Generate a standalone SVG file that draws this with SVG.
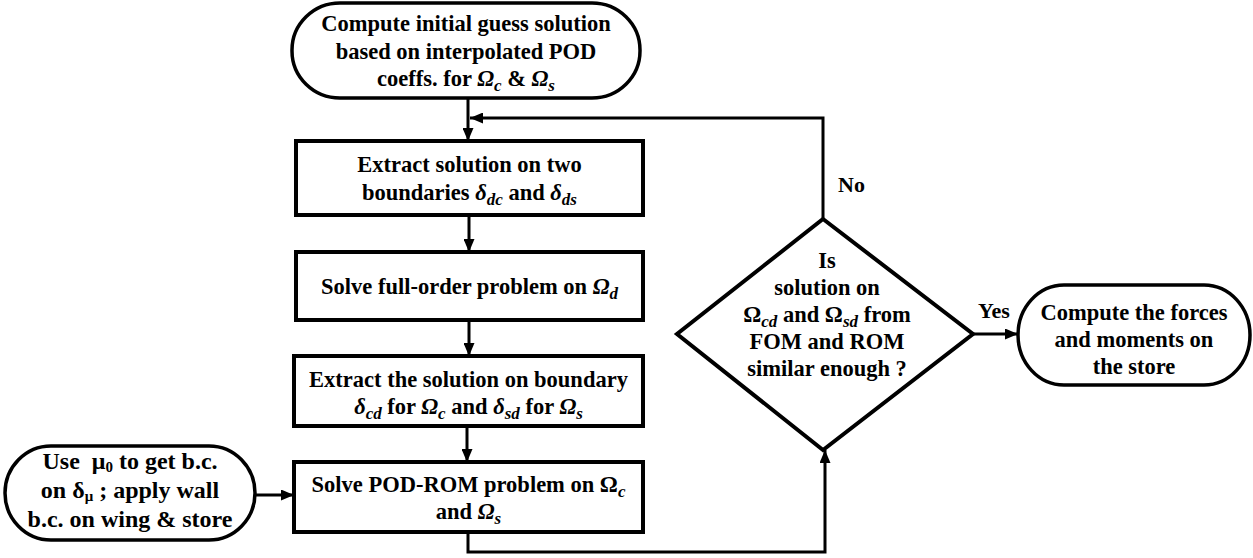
<svg xmlns="http://www.w3.org/2000/svg" width="1253" height="558" viewBox="0 0 1253 558">
<style>
.node{fill:#fff;stroke:#000;stroke-width:4}
.term{fill:#fff;stroke:#000;stroke-width:3.5}
.t{font-family:"Liberation Serif","Times New Roman",serif;font-weight:bold;font-size:22.5px;text-anchor:middle;fill:#000}
.big{font-size:24px}
.mi{font-style:italic}
.sub{font-size:17px;font-style:italic}
.subu{font-size:15px}
.lbl{font-family:"Liberation Serif","Times New Roman",serif;font-weight:bold;font-size:22px;fill:#000}
.edge{fill:none;stroke:#000;stroke-width:3}
</style>
<defs>
<marker id="ah" viewBox="0 0 13 11" refX="13" refY="5.5" markerWidth="13" markerHeight="11" markerUnits="userSpaceOnUse" orient="auto">
<path d="M0,0 L13,5.5 L0,11 z" fill="#000"/>
</marker>
</defs>
<rect width="1253" height="558" fill="#fff"/>

<g id="connectors">
<path class="edge" d="M468,98 L468,141" marker-end="url(#ah)"/>
<path class="edge" d="M823,219 L823,118 L470,118" marker-end="url(#ah)"/>
<path class="edge" d="M469,215 L469,252" marker-end="url(#ah)"/>
<path class="edge" d="M469,320 L469,356" marker-end="url(#ah)"/>
<path class="edge" d="M467,426 L467,462" marker-end="url(#ah)"/>
<path class="edge" d="M468,532 L468,552 L825,552 L825,450" marker-end="url(#ah)"/>
<path class="edge" d="M255,495 L294,495" marker-end="url(#ah)"/>
<path class="edge" d="M973,334 L1018,334" marker-end="url(#ah)"/>
<text class="lbl" x="838" y="192">No</text>
<text class="lbl" x="978" y="318">Yes</text>
</g>

<g id="start">
<rect class="term" x="292" y="3" width="348" height="95" rx="48" ry="47"/>
<text class="t" x="466" y="31">Compute initial guess solution</text>
<text class="t" x="466" y="58.5">based on interpolated POD</text>
<text class="t" x="466" y="86">coeffs. for <tspan class="mi">Ω</tspan><tspan class="sub" dy="5">c</tspan><tspan dy="-5"> &amp; </tspan><tspan class="mi">Ω</tspan><tspan class="sub" dy="5">s</tspan></text>
</g>

<g id="extract1">
<rect class="node" x="296" y="141" width="347" height="74"/>
<text class="t" x="469.5" y="172">Extract solution on two</text>
<text class="t" x="469.5" y="200">boundaries <tspan class="mi">δ</tspan><tspan class="sub" dy="5">dc</tspan><tspan dy="-5"> and </tspan><tspan class="mi">δ</tspan><tspan class="sub" dy="5">ds</tspan></text>
</g>

<g id="fullorder">
<rect class="node" x="296" y="252" width="347" height="68"/>
<text class="t" x="469.5" y="294">Solve full-order problem on <tspan class="mi">Ω</tspan><tspan class="sub" dy="5">d</tspan></text>
</g>

<g id="extract2">
<rect class="node" x="294" y="356" width="349" height="70"/>
<text class="t" x="468.5" y="387">Extract the solution on boundary</text>
<text class="t" x="468.5" y="414"><tspan class="mi">δ</tspan><tspan class="sub" dy="5">cd</tspan><tspan dy="-5"> for </tspan><tspan class="mi">Ω</tspan><tspan class="sub" dy="5">c</tspan><tspan dy="-5"> and </tspan><tspan class="mi">δ</tspan><tspan class="sub" dy="5">sd</tspan><tspan dy="-5"> for </tspan><tspan class="mi">Ω</tspan><tspan class="sub" dy="5">s</tspan></text>
</g>

<g id="podrom">
<rect class="node" x="294" y="462" width="349" height="70"/>
<text class="t" x="468.5" y="492">Solve POD-ROM problem on Ω<tspan class="sub" dy="5">c</tspan></text>
<text class="t" x="468.5" y="519">and <tspan class="mi">Ω</tspan><tspan class="sub" dy="5">s</tspan></text>
</g>

<g id="bc">
<rect class="term" x="5" y="446" width="250" height="94" rx="46" ry="47"/>
<text class="t big" x="130" y="469">Use&#160; μ<tspan class="subu" dy="3">0</tspan><tspan dy="-3"> to get b.c.</tspan></text>
<text class="t big" x="130" y="498">on δ<tspan class="subu" dy="3">μ</tspan><tspan dy="-3"> ; apply wall</tspan></text>
<text class="t big" x="130" y="527">b.c. on wing &amp; store</text>
</g>

<g id="decision">
<polygon class="node" points="823,219 973,334 823,450 677,334"/>
<text class="t" x="827" y="268">Is</text>
<text class="t" x="827" y="295">solution on</text>
<text class="t" x="827" y="322">Ω<tspan class="sub" dy="5">cd</tspan><tspan dy="-5"> and Ω</tspan><tspan class="sub" dy="5">sd</tspan><tspan dy="-5"> from</tspan></text>
<text class="t" x="827" y="349">FOM and ROM</text>
<text class="t" x="827" y="376">similar enough ?</text>
</g>

<g id="end">
<rect class="term" x="1018" y="285" width="232" height="100" rx="46" ry="50"/>
<text class="t" x="1134" y="320">Compute the forces</text>
<text class="t" x="1134" y="347">and moments on</text>
<text class="t" x="1134" y="374">the store</text>
</g>
</svg>
